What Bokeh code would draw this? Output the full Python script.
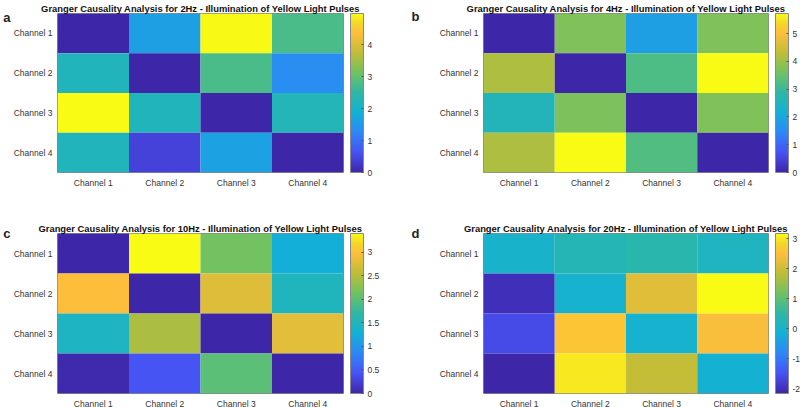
import numpy as np
from bokeh.plotting import figure
from bokeh.models import (LinearColorMapper, ColorBar, FixedTicker, LinearAxis,
                          ColumnDataSource, Range1d)
from bokeh.layouts import column, row
from bokeh.embed import file_html
from bokeh.resources import INLINE

channels = ["Channel 1", "Channel 2", "Channel 3", "Channel 4"]

gc_2hz = [
    [0.00, 1.60, 4.95, 2.75],
    [2.20, 0.00, 2.75, 1.35],
    [4.98, 2.20, 0.00, 2.25],
    [2.20, 0.40, 1.65, 0.00],
]
gc_4hz = [
    [0.00, 3.75, 1.85, 3.75],
    [4.15, 0.00, 3.20, 5.72],
    [2.55, 3.70, 0.00, 3.75],
    [4.15, 5.70, 3.25, 0.00],
]
gc_10hz = [
    [0.00, 3.40, 2.15, 1.25],
    [2.98, 0.00, 2.75, 1.50],
    [1.45, 2.45, 0.00, 2.80],
    [0.03, 0.45, 2.00, 0.00],
]
gc_20hz = [
    [0.00, 0.30, 0.40, 0.15],
    [-2.00, -0.05, 2.20, 3.17],
    [-1.60, 2.60, -0.05, 2.45],
    [-2.15, 3.00, 1.90, -0.10],
]

cb_ticks_2hz = [0, 1, 2, 3, 4]
cb_ticks_4hz = [0, 1, 2, 3, 4, 5]
cb_ticks_10hz = [0, 0.5, 1, 1.5, 2, 2.5, 3]
cb_ticks_20hz = [-2, -1, 0, 1, 2, 3]

titles = [
    "Granger Causality Analysis for 2Hz - Illumination of Yellow Light Pulses",
    "Granger Causality Analysis for 4Hz - Illumination of Yellow Light Pulses",
    "Granger Causality Analysis for 10Hz - Illumination of Yellow Light Pulses",
    "Granger Causality Analysis for 20Hz - Illumination of Yellow Light Pulses",
]
letters = ["a", "b", "c", "d"]

# parula-like colormap anchors
_anchors = [
    (0.000, (62, 38, 168)),
    (0.125, (72, 82, 244)),
    (0.250, (46, 135, 247)),
    (0.375, (18, 177, 214)),
    (0.500, (46, 183, 164)),
    (0.625, (110, 194, 100)),
    (0.750, (190, 189, 55)),
    (0.875, (253, 190, 60)),
    (0.940, (245, 215, 40)),
    (1.000, (249, 251, 21)),
]
_pos = np.array([a[0] for a in _anchors])
_rgb = np.array([a[1] for a in _anchors], dtype=float)
_t = np.linspace(0, 1, 256)
parula = ["#%02x%02x%02x" % tuple(int(round(np.interp(t, _pos, _rgb[:, k]))) for k in range(3)) for t in _t]

FONT = "Liberation Sans"
TXT = "#333333"


def fmt(v):
    return ("%g" % v)


def panel(mat, ticks, title, letter, height, left, top, fw, fh, letter_dy, letter_standoff):
    vals = np.array(mat, dtype=float)
    xs, ys, vs = [], [], []
    for i in range(4):
        for j in range(4):
            xs.append(j + 1)
            ys.append(i + 1)
            vs.append(vals[i, j])
    src = ColumnDataSource(dict(x=xs, y=ys, v=vs))
    mapper = LinearColorMapper(palette=parula, low=float(vals.min()), high=float(vals.max()))

    p = figure(width=400, height=height, output_backend="svg", toolbar_location=None,
               x_range=Range1d(0.5, 4.5), y_range=Range1d(4.5, 0.5),
               min_border_left=left, min_border_right=400 - left - fw,
               min_border_top=top, min_border_bottom=height - top - fh,
               background_fill_color="white", border_fill_color="white")
    p.frame_width = fw
    p.frame_height = fh
    p.rect(x="x", y="y", width=1, height=1, source=src,
           fill_color={"field": "v", "transform": mapper}, line_color=None)
    p.grid.visible = False
    p.outline_line_color = "#8a8a8a"
    p.outline_line_width = 1
    for ax in (p.xaxis[0], p.yaxis[0]):
        ax.ticker = FixedTicker(ticks=[1, 2, 3, 4])
        ax.major_label_overrides = {k + 1: channels[k] for k in range(4)}
        ax.major_tick_line_color = None
        ax.major_tick_out = 0
        ax.major_tick_in = 0
        ax.minor_tick_line_color = None
        ax.minor_tick_out = 0
        ax.minor_tick_in = 0
        ax.axis_line_color = None
        ax.major_label_text_font = FONT
        ax.major_label_text_font_size = "8.5px"
        ax.major_label_text_color = TXT
    p.xaxis[0].major_label_standoff = 5
    p.yaxis[0].major_label_standoff = 5

    # panel letter as an outer left axis label
    p.extra_y_ranges = {"letter": Range1d(fh, 0)}
    lax = LinearAxis(y_range_name="letter", ticker=FixedTicker(ticks=[letter_dy]),
                     major_label_overrides={letter_dy: letter},
                     major_label_text_font=FONT, major_label_text_font_style="bold",
                     major_label_text_font_size="13px", major_label_text_color="#222222",
                     major_label_standoff=letter_standoff,
                     major_tick_line_color=None, major_tick_in=0, major_tick_out=0,
                     minor_tick_line_color=None, minor_tick_in=0, minor_tick_out=0,
                     axis_line_color=None)
    p.add_layout(lax, "left")

    p.title.text = title
    p.title.text_font = FONT
    p.title.text_font_style = "bold"
    p.title.text_font_size = "9.4px"
    p.title.text_line_height = 0.9
    p.title.align = "center"
    p.title.text_color = "#111111"
    p.title.standoff = 0

    cb = ColorBar(color_mapper=mapper, width=13, height=fh, padding=0, margin=0,
                  location=(fw + 7, 0),
                  ticker=FixedTicker(ticks=ticks),
                  major_label_overrides={t: fmt(t) for t in ticks},
                  major_label_text_font=FONT, major_label_text_font_size="8.5px",
                  major_label_text_color=TXT, label_standoff=4,
                  major_tick_in=2, major_tick_out=0, major_tick_line_color="#555555",
                  minor_tick_line_color=None,
                  bar_line_color="#8a8a8a", bar_line_width=1,
                  background_fill_alpha=0, border_line_color=None)
    p.add_layout(cb, "center")
    return p


pa = panel(gc_2hz, cb_ticks_2hz, titles[0], letters[0], 200, 57, 13, 286, 159, 4, 0)
pb = panel(gc_4hz, cb_ticks_4hz, titles[1], letters[1], 200, 83, 13, 285, 159, 3, 17)
pc = panel(gc_10hz, cb_ticks_10hz, titles[2], letters[2], 207, 57, 33, 286, 160, 0, 0)
pd = panel(gc_20hz, cb_ticks_20hz, titles[3], letters[3], 207, 83, 33, 285, 160, 0, 17)

layout = column(row(pa, pb, spacing=0), row(pc, pd, spacing=0), spacing=0)
open("out.html", "w").write(file_html(layout, INLINE))
